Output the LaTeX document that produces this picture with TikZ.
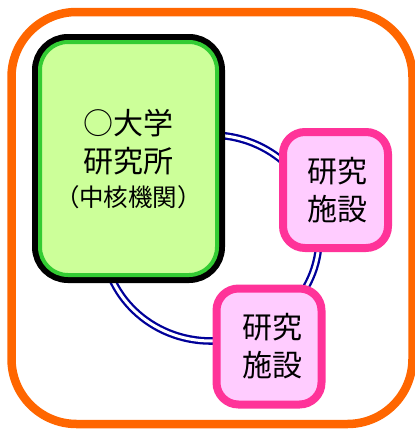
\documentclass[tikz,border=0pt]{standalone}
\usepackage{fontspec}
\newfontfamily\jpfont{Noto Sans CJK JP}
\usetikzlibrary{positioning,calc}
\definecolor{frameorange}{HTML}{FF6600}
\definecolor{hubgreen}{HTML}{33CC33}
\definecolor{hubfill}{HTML}{CCFF99}
\definecolor{labpink}{HTML}{FF3399}
\definecolor{labfill}{HTML}{FFCCFF}
\definecolor{ringblue}{HTML}{000099}

\begin{document}
\begin{tikzpicture}[x=1pt, y=-1pt,
    hubbox/.style={rectangle, rounded corners=28pt, minimum width=177pt, minimum height=233pt,
        fill=hubfill, draw=hubgreen, line width=4pt, preaction={draw=black, line width=16pt},
        inner sep=0pt, align=center, font=\jpfont\fontsize{30}{38}\selectfont},
    labbox/.style={rectangle, rounded corners=22pt, minimum width=105pt, minimum height=116pt,
        fill=labfill, draw=labpink, line width=8pt,
        inner sep=0pt, align=center, font=\jpfont\fontsize{30}{38}\selectfont},
    ring/.style={draw=ringblue, line width=2.3pt, double=white, double distance=3pt}]
    \useasboundingbox (0,0) rectangle (415,429);

    % Outer frame
    \draw[line width=8.5pt, frameorange, rounded corners=65pt] (11.5,12) rectangle (412.5,424);

    % Ring linking the institutions (drawn first, boxes sit on it)
    \coordinate (ringc) at (211,238);
    \draw[ring] (ringc) ellipse [x radius=108pt, y radius=103pt];

    % Core institution
    \node[hubbox] (hub) at (128.5,158.5)
        {○大学\\研究所\\[-4pt]{\fontsize{24.5}{28}\selectfont （中核機関）}};

    % Research facilities on the ring
    \node[labbox] (lab1) at (335.5,190) {\hspace*{3pt}研究\\\hspace*{3pt}施設};
    \node[labbox] (lab2) at (269,346.5) {\hspace*{6pt}研究\\\hspace*{6pt}施設};
\end{tikzpicture}
\end{document}
